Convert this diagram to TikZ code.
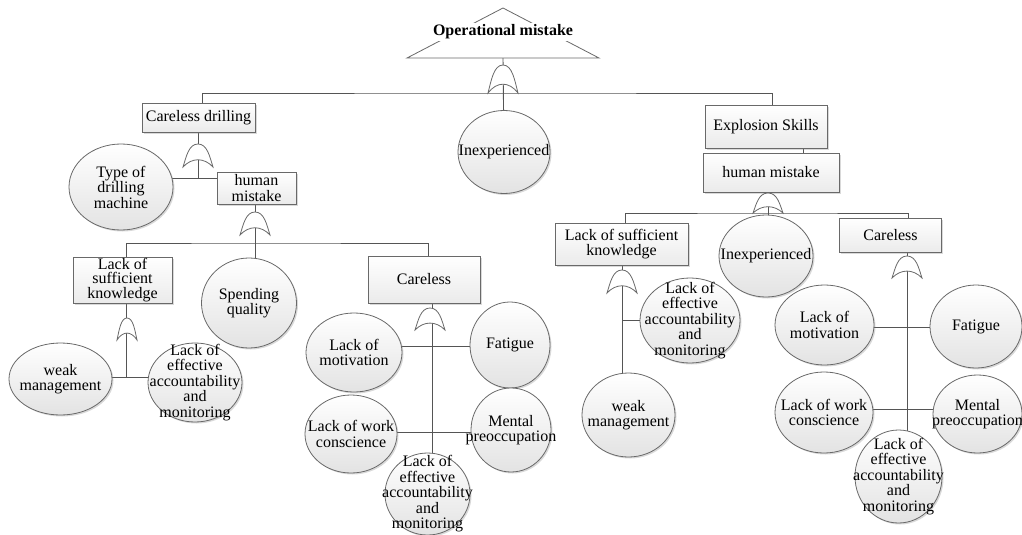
\documentclass[tikz,border=0pt]{standalone}
\usepackage{fontspec}
\setmainfont{Liberation Serif}
\usetikzlibrary{shapes.geometric,shadows}
\pgfdeclarelayer{background}
\pgfsetlayers{background,main}
\definecolor{linecol}{RGB}{85,85,85}
\definecolor{edgecol}{RGB}{105,105,105}
% OR gate: centre x, centre y, half width, height
\newcommand{\orgate}[4]{%
  \begin{scope}[shift={(#1,#2)}]
    \draw[gatestyle] (-#3,#4/2)
      .. controls (-0.78*#3,0.05*#4) and (-0.62*#3,-#4/2) .. (0,-#4/2)
      .. controls (0.62*#3,-#4/2) and (0.78*#3,0.05*#4) .. (#3,#4/2)
      .. controls (0.4*#3,0.08*#4) and (-0.4*#3,0.08*#4) .. cycle;
  \end{scope}}
\begin{document}
\begin{tikzpicture}[x=1pt,y=-1pt,
  every node/.style={font=\fontsize{16}{15.5}\selectfont},
  conn/.style={draw=linecol, line width=0.9pt},
  gatestyle/.style={draw=edgecol, line width=0.8pt, fill=white},
  shadowed/.style={drop shadow={shadow xshift=1.5pt, shadow yshift=-1.5pt, opacity=.3, fill=gray}},
  box/.style 2 args={rectangle, draw=edgecol, line width=0.8pt, inner sep=0pt, align=center,
    minimum width=#1pt, minimum height=#2pt, top color=white, bottom color=gray!16, shadowed},
  ev/.style 2 args={ellipse, draw=edgecol, line width=0.8pt, inner sep=0pt,
    minimum width=#1pt, minimum height=#2pt, top color=white, bottom color=gray!22, shadowed},
  lbl/.style={align=center, inner sep=0pt, font=\fontsize{16}{15.5}\selectfont}]
\useasboundingbox (0,0) rectangle (1022,535);

% top event
\draw[draw=edgecol, line width=0.8pt, fill=white] (407,58) -- (503,8) -- (599,58) -- cycle;
\node[fill=white, inner sep=2pt, font=\fontsize{16}{15.5}\selectfont\bfseries] (top) at (503,32) {Operational mistake};
\coordinate (tb) at (503,58);

% first level
\node[box={113}{29}] (cd) at (198.5,117.5) {Careless drilling};
\node[ev={92}{83}, label={[lbl]center:Inexperienced}] (inx1) at (504,152) {};
\node[box={122}{43}] (es) at (766,126.5) {Explosion Skills};

% careless drilling branch
\node[ev={104}{86}, label={[lbl]center:{Type of\\drilling\\machine}}] (tdm) at (121,187) {};
\node[box={79}{32}] (hm1) at (256.5,188) {human\\mistake};
\node[box={99}{46}, font=\fontsize{16}{14.5}\selectfont] (lsk1) at (122.5,280) {Lack of\\sufficient\\knowledge};
\node[ev={95}{90}, label={[lbl]center:{Spending\\quality}}] (spq) at (249,303) {};
\node[box={112}{47}] (car1) at (424,279.5) {Careless};
\node[ev={103}{72}, label={[lbl]center:{weak\\management}}] (wm1) at (60.5,379) {};
\node[ev={94}{79}, label={[lbl]center:{Lack of\\effective\\accountability\\and\\monitoring}}] (leam1) at (195,382.5) {};
\node[ev={96}{79}, label={[lbl]center:{Lack of\\motivation}}] (lom1) at (354,352.5) {};
\node[ev={80}{86}, label={[lbl]center:Fatigue}] (fat1) at (510,345) {};
\node[ev={92}{78}, label={[lbl]center:{Lack of work\\conscience}}] (lwc1) at (351,434) {};
\node[ev={80}{84}, label={[lbl]center:{Mental\\preoccupation}}] (mp1) at (511,430) {};
\node[ev={85}{82}, label={[lbl]center:{Lack of\\effective\\accountability\\and\\monitoring}}] (leam2) at (427.5,494) {};

% explosion skills branch
\node[box={136}{39}] (hm2) at (771,172.5) {human mistake};
\node[box={133}{42}] (lsk2) at (621.5,244) {Lack of sufficient\\knowledge};
\node[ev={94}{82}, label={[lbl]center:Inexperienced}] (inx2) at (766,256) {};
\node[box={102}{34}] (car2) at (890.5,235.5) {Careless};
\node[ev={100}{85}, label={[lbl]center:{Lack of\\effective\\accountability\\and\\monitoring}}] (leam3) at (690,320.5) {};
\node[ev={93}{84}, label={[lbl]center:{weak\\management}}] (wm2) at (628.5,415) {};
\node[ev={99}{80}, label={[lbl]center:{Lack of\\motivation}}] (lom2) at (824.5,325) {};
\node[ev={92}{83}, label={[lbl]center:Fatigue}] (fat2) at (976,326.5) {};
\node[ev={98}{81}, label={[lbl]center:{Lack of work\\conscience}}] (lwc2) at (824,412.5) {};
\node[ev={89}{78}, label={[lbl]center:{Mental\\preoccupation}}] (mp2) at (977.5,414) {};
\node[ev={87}{93}, label={[lbl]center:{Lack of\\effective\\accountability\\and\\monitoring}}] (leam4) at (898.5,476.5) {};

% junction points of the bars
\coordinate (b0) at (503,93);
\coordinate (b1) at (198,178);
\coordinate (b2) at (255,243);
\coordinate (b3) at (126,377);
\coordinate (b4) at (432,346);
\coordinate (b5) at (432,432);
\coordinate (b6) at (768,213);
\coordinate (b7) at (622,320);
\coordinate (b8) at (907,327);
\coordinate (b9) at (907,409);

\begin{pgfonlayer}{background}
  % top level
  \draw[conn] (tb) -- (inx1.center);
  \draw[conn] ([xshift=3.5pt]cd.center) |- (b0) -| ([xshift=6pt]es.center);
  % careless drilling
  \draw[conn] (cd.center) -- (cd.center |- b1);
  \draw[conn] (tdm.center |- b1) -- (hm1.center |- b1);
  % human mistake (left)
  \draw[conn] ([xshift=-1.5pt]hm1.center) -- ([xshift=-1.5pt]hm1.center |- spq.center);
  \draw[conn] ([xshift=3.5pt]lsk1.center) |- (b2) -| ([xshift=4pt]car1.center);
  % lack of sufficient knowledge (left)
  \draw[conn] ([xshift=3.5pt]lsk1.center) -- (b3);
  \draw[conn] (wm1.center |- b3) -- (leam1.center |- b3);
  % careless (middle)
  \draw[conn] ([xshift=8pt]car1.center) -- ([xshift=8pt]car1.center |- leam2.center);
  \draw[conn] (lom1.center |- b4) -- (fat1.center |- b4);
  \draw[conn] (lwc1.center |- b5) -- (mp1.center |- b5);
  % explosion skills
  \draw[conn] ([xshift=37pt]es.center) -- ([xshift=32pt]hm2.center);
  \draw[conn] ([xshift=-3pt]hm2.center) -- ([xshift=-3pt]hm2.center |- inx2.center);
  \draw[conn] ([xshift=3.5pt]lsk2.center) |- (b6) -| ([xshift=17.5pt]car2.center);
  % lack of sufficient knowledge (right)
  \draw[conn] (b7 |- lsk2.center) -- (b7 |- wm2.center);
  \draw[conn] (b7) -- (leam3.center |- b7);
  % careless (right)
  \draw[conn] ([xshift=16.5pt]car2.center) -- ([xshift=16.5pt]car2.center |- leam4.center);
  \draw[conn] (lom2.center |- b8) -- (fat2.center |- b8);
  \draw[conn] (lwc2.center |- b9) -- (mp2.center |- b9);
\end{pgfonlayer}

% OR gates
\orgate{503}{79}{15}{28}
\orgate{198}{155.5}{15}{23}
\orgate{255}{223.5}{15}{23}
\orgate{127}{329}{10}{22}
\orgate{430}{319}{15}{22}
\orgate{768}{203}{15}{20}
\orgate{622}{281.5}{15}{23}
\orgate{907}{267}{15}{22}
\end{tikzpicture}
\end{document}
